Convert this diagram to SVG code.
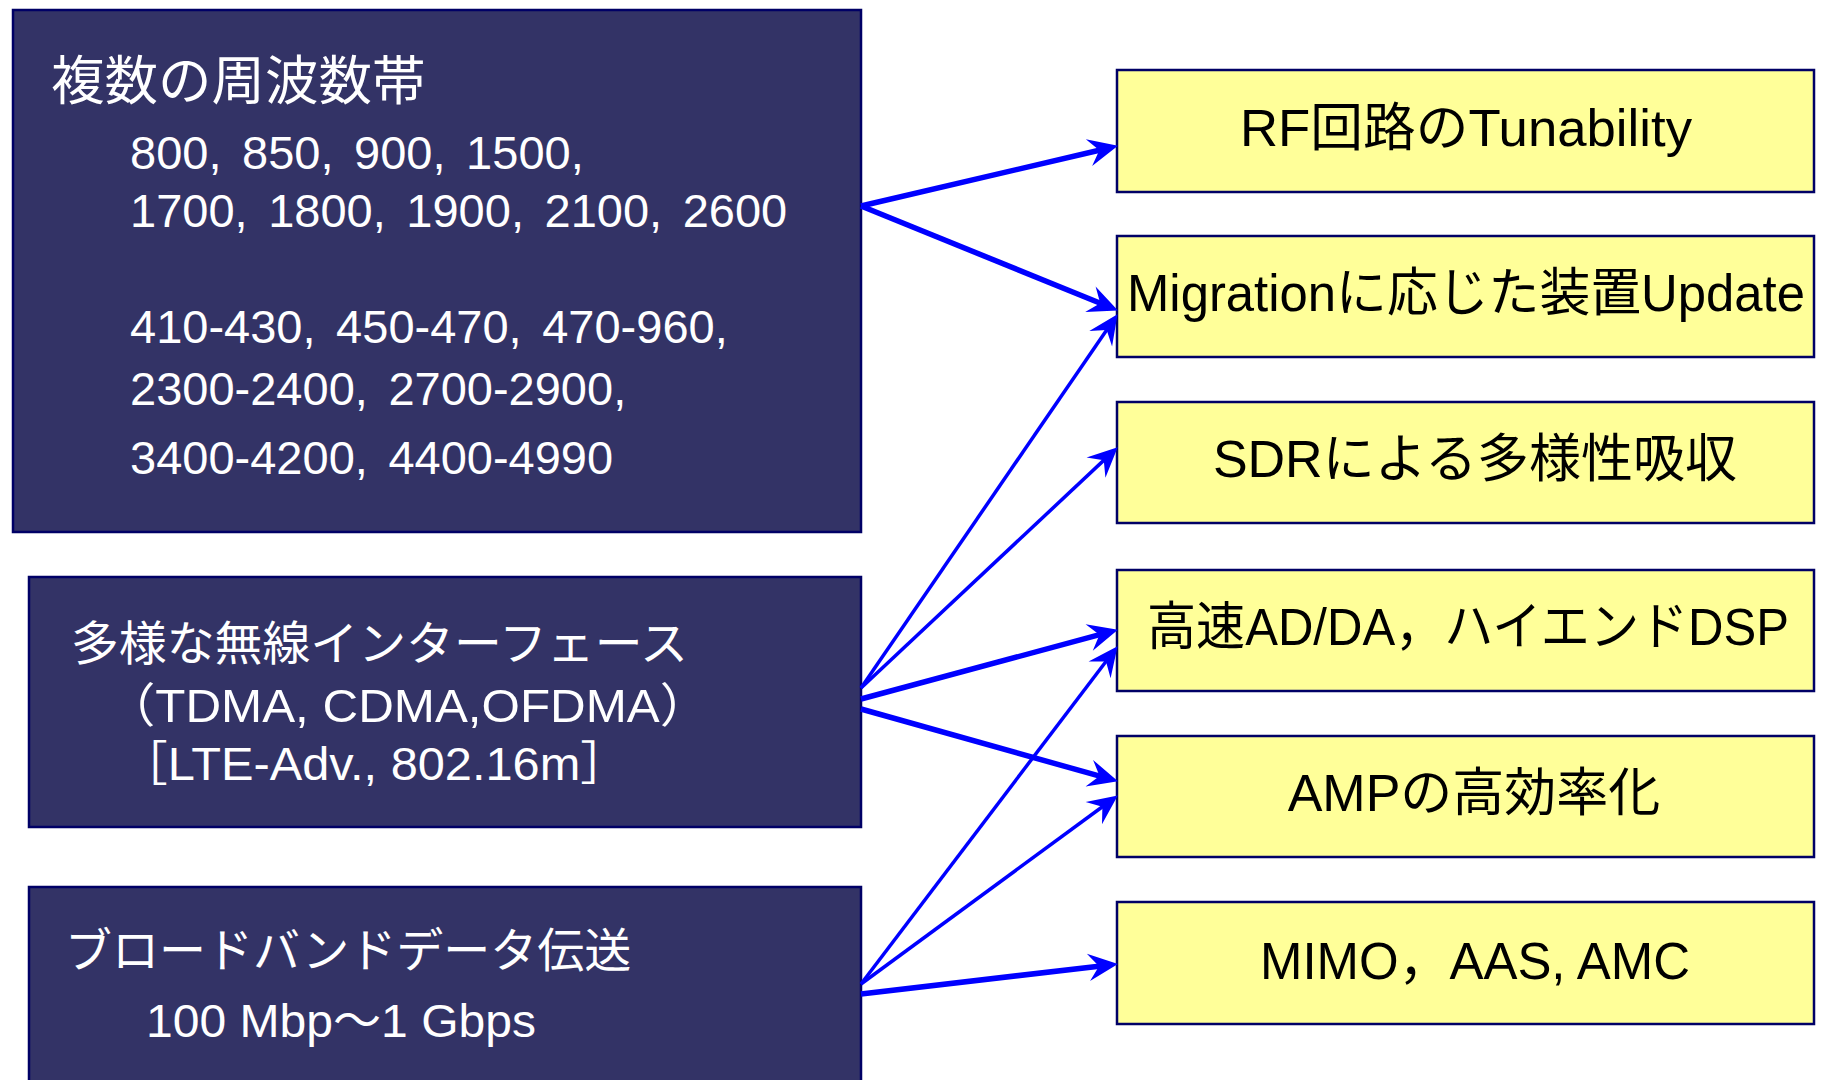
<svg xmlns="http://www.w3.org/2000/svg" width="1821" height="1080" viewBox="0 0 1821 1080">
  <defs>
    <style>
      .src { fill: #333366; stroke: #000066; stroke-width: 2.5; }
      .dst { fill: #FFFF99; stroke: #000066; stroke-width: 2.5; }
      .t { font-family: 'Liberation Sans', 'Noto Sans CJK JP', sans-serif; }
      .w { fill: #FFFFFF; }
      .k { fill: #000000; font-size: 52px; text-anchor: middle; }
      .head { font-size: 47px; }
      .sub { font-size: 47px; }
      .list { word-spacing: 7.5px; }
      .link { stroke: #0000FF; fill: none; marker-end: url(#ah); }
      .thick { stroke-width: 5.5; }
      .thin { stroke-width: 3.5; }
    </style>
    <marker id="ah" markerUnits="userSpaceOnUse" markerWidth="34" markerHeight="32" viewBox="-30 -15 32 30" refX="-16" refY="0" orient="auto">
      <path d="M0,0 L-28,-13 L-18,0 L-28,13 Z" fill="#0000FF"/>
    </marker>
  </defs>

  <rect width="1821" height="1080" fill="#FFFFFF"/>

  <!-- source requirements -->
  <g id="bands">
    <rect class="src" x="13" y="10" width="848" height="522"/>
    <text class="t w" x="51" y="100" font-size="53.5">複数の周波数帯</text>
    <text class="t w sub list" x="130" y="169">800, 850, 900, 1500,</text>
    <text class="t w sub list" x="130" y="227">1700, 1800, 1900, 2100, 2600</text>
    <text class="t w sub list" x="130" y="343">410-430, 450-470, 470-960,</text>
    <text class="t w sub list" x="130" y="405">2300-2400, 2700-2900,</text>
    <text class="t w sub list" x="130" y="474">3400-4200, 4400-4990</text>
  </g>

  <g id="interfaces">
    <rect class="src" x="29" y="577" width="832" height="250"/>
    <text class="t w head" x="71" y="660" textLength="617" lengthAdjust="spacingAndGlyphs">多様な無線インターフェース</text>
    <text class="t w sub" x="106" y="722" textLength="603" lengthAdjust="spacingAndGlyphs">（TDMA, CDMA,OFDMA）</text>
    <text class="t w sub" x="119" y="780" textLength="510" lengthAdjust="spacingAndGlyphs">［LTE-Adv., 802.16m］</text>
  </g>

  <g id="broadband">
    <rect class="src" x="29" y="887" width="832" height="210"/>
    <text class="t w head" x="65" y="967">ブロードバンドデータ伝送</text>
    <text class="t w sub" x="146" y="1037" textLength="390" lengthAdjust="spacingAndGlyphs">100 Mbp～1 Gbps</text>
  </g>

  <!-- technology answers -->
  <g id="rf-tunability">
    <rect class="dst" x="1117" y="70" width="697" height="122"/>
    <text class="t k" x="1466" y="146" textLength="452" lengthAdjust="spacingAndGlyphs">RF回路のTunability</text>
  </g>

  <g id="migration-update">
    <rect class="dst" x="1117" y="236" width="697" height="121"/>
    <text class="t k" x="1466" y="311" textLength="678" lengthAdjust="spacingAndGlyphs">Migrationに応じた装置Update</text>
  </g>

  <g id="sdr">
    <rect class="dst" x="1117" y="402" width="697" height="121"/>
    <text class="t k" x="1475" y="477">SDRによる多様性吸収</text>
  </g>

  <g id="adda-dsp">
    <rect class="dst" x="1117" y="570" width="697" height="121"/>
    <text class="t k" x="1468" y="645" font-size="49.5" textLength="642" lengthAdjust="spacingAndGlyphs">高速AD/DA，ハイエンドDSP</text>
  </g>

  <g id="amp">
    <rect class="dst" x="1117" y="736" width="697" height="121"/>
    <text class="t k" x="1474" y="811">AMPの高効率化</text>
  </g>

  <g id="mimo">
    <rect class="dst" x="1117" y="902" width="697" height="122"/>
    <text class="t k" x="1475" y="979" textLength="430" lengthAdjust="spacingAndGlyphs">MIMO，AAS, AMC</text>
  </g>

  <!-- connectors -->
  <g id="connectors">
    <line class="link thick" x1="861" y1="206" x2="1101.4" y2="149.7"/>
    <line class="link thick" x1="861" y1="206" x2="1102.2" y2="304.0"/>
    <line class="link thin" x1="861" y1="688" x2="1107.9" y2="328.2"/>
    <line class="link thin" x1="861" y1="688" x2="1105.3" y2="458.9"/>
    <line class="link thick" x1="861" y1="699" x2="1101.5" y2="634.2"/>
    <line class="link thick" x1="861" y1="709" x2="1101.6" y2="776.7"/>
    <line class="link thin" x1="861" y1="984" x2="1107.3" y2="659.7"/>
    <line class="link thin" x1="861" y1="984" x2="1104.1" y2="805.5"/>
    <line class="link thick" x1="861" y1="994" x2="1101.1" y2="965.9"/>
  </g>
</svg>
